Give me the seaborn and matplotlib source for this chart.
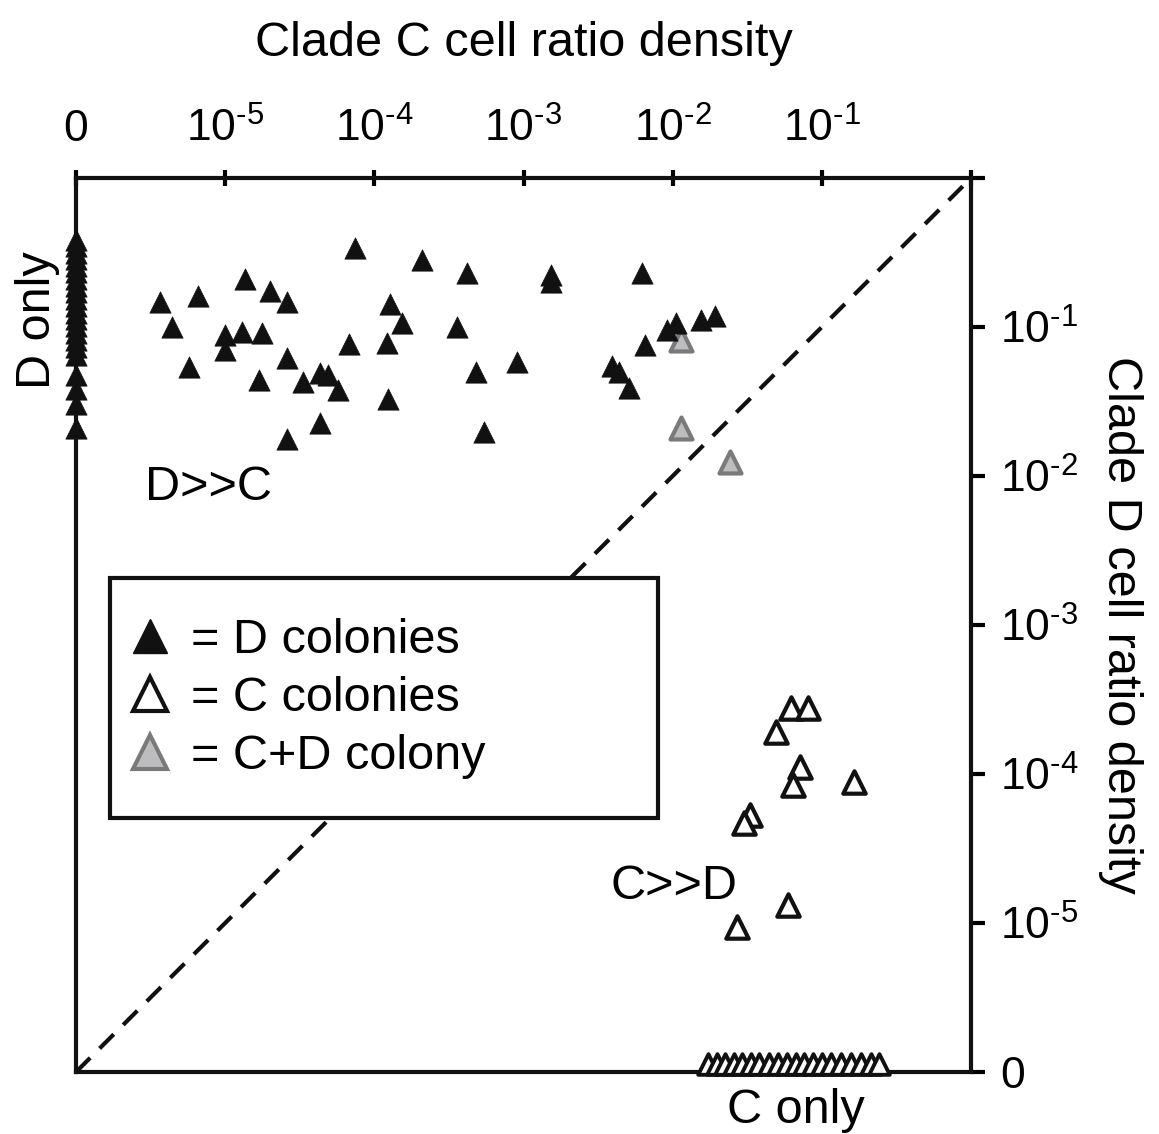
import numpy as np
import pandas as pd
import seaborn as sns
import matplotlib
matplotlib.use("Agg")
import matplotlib.pyplot as plt
from matplotlib.lines import Line2D
from matplotlib.patches import Rectangle
from matplotlib.ticker import NullLocator
from matplotlib.transforms import ScaledTranslation

# ---------------- data (cell ratio densities; 0 = clade absent) ----------------
# D colonies with no detectable clade C ("D only")
d_only_c = [0.0] * 22
d_only_d = [0.384, 0.350, 0.314, 0.286, 0.256, 0.234, 0.210, 0.188, 0.172, 0.154,
            0.138, 0.124, 0.113, 0.102, 0.091, 0.082, 0.0735, 0.0649,
            0.0477, 0.0384, 0.0304, 0.0210]

# D colonies with both clades detected
d_col_c = [3.66e-6, 4.4e-6, 6.6e-6, 5.7e-6, 1.36e-5, 2.0e-5, 2.6e-5, 1.0e-5, 1.0e-5,
           1.3e-5, 1.77e-5, 2.6e-5, 1.69e-5, 3.3e-5, 4.35e-5, 4.9e-5, 5.7e-5, 4.35e-5,
           2.6e-5, 7.4e-5, 6.8e-5, 2.1e-4, 4.2e-4, 1.54e-3, 1.54e-3, 6.2e-3, 1.28e-4,
           1.54e-4, 3.6e-4, 1.22e-4, 1.24e-4, 4.8e-4, 9.1e-4, 5.4e-4, 9.2e-3, 1.05e-2,
           1.54e-2, 1.91e-2, 6.5e-3, 3.9e-3, 4.4e-3, 5.1e-3]
d_col_d = [0.147, 0.100, 0.161, 0.054, 0.210, 0.175, 0.147, 0.088, 0.070,
           0.092, 0.091, 0.062, 0.044, 0.043, 0.049, 0.048, 0.038, 0.0227,
           0.0177, 0.339, 0.077, 0.282, 0.230, 0.223, 0.200, 0.230, 0.143,
           0.106, 0.100, 0.078, 0.0329, 0.050, 0.058, 0.0197, 0.0955, 0.106,
           0.111, 0.119, 0.0757, 0.0547, 0.050, 0.039]

# C colonies with both clades detected
c_col_c = [0.062, 0.0805, 0.049, 0.071, 0.0638, 0.164, 0.0329, 0.030, 0.059, 0.0269]
c_col_d = [2.77e-4, 2.77e-4, 1.91e-4, 1.11e-4, 8.4e-5, 8.8e-5, 5.3e-5, 4.7e-5, 1.32e-5, 9.4e-6]

# C colonies with no detectable clade D ("C only")
c_only_c = [0.0172, 0.0197, 0.0223, 0.0256, 0.0290, 0.0333, 0.0378, 0.0441, 0.0507, 0.0582,
            0.0670, 0.0757, 0.0871, 0.100, 0.115, 0.134, 0.157, 0.183, 0.213, 0.242]
c_only_d = [0.0] * 20

# C+D colony
cd_c = [1.13e-2, 1.13e-2, 2.42e-2]
cd_d = [0.082, 0.021, 0.0124]

x_ticks = [1e-6, 1e-5, 1e-4, 1e-3, 1e-2, 1e-1, 1.0]
x_tick_labels = ["0", "10$^{\\text{-5}}$", "10$^{\\text{-4}}$", "10$^{\\text{-3}}$",
                 "10$^{\\text{-2}}$", "10$^{\\text{-1}}$", ""]
y_ticks = [1e-6, 1e-5, 1e-4, 1e-3, 1e-2, 1e-1, 1.0]
y_tick_labels = ["0", "10$^{\\text{-5}}$", "10$^{\\text{-4}}$", "10$^{\\text{-3}}$",
                 "10$^{\\text{-2}}$", "10$^{\\text{-1}}$", ""]

ZERO_POS = 1e-6  # where "0" sits on the log axes


def place(v):
    v = np.asarray(v, dtype=float)
    return np.where(v == 0, ZERO_POS, v)


d_df = pd.DataFrame({"C": place(d_only_c + d_col_c), "D": place(d_only_d + d_col_d)})
c_df = pd.DataFrame({"C": place(c_col_c), "D": place(c_col_d)})
c0_df = pd.DataFrame({"C": place(c_only_c), "D": place(c_only_d)})
cd_df = pd.DataFrame({"C": place(cd_c), "D": place(cd_d)})

# ---------------- style ----------------
sns.set_style("white")
plt.rcParams["font.family"] = ["Liberation Sans", "DejaVu Sans"]
plt.rcParams["mathtext.fontset"] = "custom"
plt.rcParams["mathtext.rm"] = "Liberation Sans"
plt.rcParams["mathtext.it"] = "Liberation Sans:italic"
plt.rcParams["mathtext.bf"] = "Liberation Sans:bold"
plt.rcParams["text.color"] = "black"
plt.rcParams["axes.labelcolor"] = "black"
plt.rcParams["xtick.color"] = "black"
plt.rcParams["ytick.color"] = "black"

fig, ax = plt.subplots(figsize=(11.59, 11.34), dpi=100)
fig.subplots_adjust(left=0.0656, right=0.8378, top=0.843, bottom=0.0547)
ax.set_xscale("log")
ax.set_yscale("log")
ax.set_xlim(1e-6, 1.0)
ax.set_ylim(1e-6, 1.0)

# diagonal
ax.axline((1e-6, 1e-6), (1.0, 1.0), color="#111111", lw=3.0, ls=(0, (4.8, 3.2)), zorder=1)

# points
sns.scatterplot(data=cd_df, x="C", y="D", marker="^", s=250, color="#bdbdc0",
                edgecolor="#7a7a7a", linewidth=3.0, ax=ax, zorder=3, legend=False)
sns.scatterplot(data=d_df, x="C", y="D", marker="^", s=235, color="#111111",
                edgecolor="#111111", linewidth=0.5, ax=ax, zorder=4, legend=False)
sns.scatterplot(data=c_df, x="C", y="D", marker="^", s=260, color="white",
                edgecolor="#111111", linewidth=3.0, ax=ax, zorder=4, legend=False)
sns.scatterplot(data=c0_df, x="C", y="D", marker="^", s=220, color="white",
                edgecolor="#111111", linewidth=2.8, ax=ax, zorder=4, legend=False)
ax.collections[-1].set_offset_transform(
    ax.transData + ScaledTranslation(0, 6 / 72, fig.dpi_scale_trans))
for coll in ax.collections:
    coll.set_clip_on(False)

# axes / ticks
for sp in ax.spines.values():
    sp.set_visible(True)
    sp.set_color("#111111")
    sp.set_linewidth(3.0)
ax.xaxis.tick_top()
ax.yaxis.tick_right()
ax.xaxis.set_minor_locator(NullLocator())
ax.yaxis.set_minor_locator(NullLocator())
ax.set_xticks(x_ticks)
ax.set_xticklabels(x_tick_labels)
ax.set_yticks(y_ticks)
ax.set_yticklabels(y_tick_labels)
ax.tick_params(axis="x", which="major", direction="inout", length=12, width=3.0,
               pad=14, labelsize=32, top=True, bottom=False, labeltop=True,
               labelbottom=False, colors="black")
ax.tick_params(axis="y", which="major", direction="out", length=10, width=3.0,
               pad=11, labelsize=32, right=True, left=False, labelright=True,
               labelleft=False, colors="black")
ax.grid(False)

ax.xaxis.set_label_position("top")
ax.set_xlabel("Clade C cell ratio density", fontsize=35, labelpad=37)
ax.yaxis.set_label_position("right")
ax.set_ylabel("Clade D cell ratio density", fontsize=35, rotation=270,
              labelpad=14, va="bottom")

# annotations
ax.text(-0.043, 0.841, "D only", transform=ax.transAxes, rotation=90,
        fontsize=35, ha="center", va="center")
ax.text(0.077, 0.654, "D>>C", transform=ax.transAxes, fontsize=35,
        ha="left", va="center")
ax.text(0.597, 0.207, "C>>D", transform=ax.transAxes, fontsize=35,
        ha="left", va="center")
ax.text(0.804, -0.043, "C only", transform=ax.transAxes, fontsize=35,
        ha="center", va="center", clip_on=False)

# legend box
ax.add_patch(Rectangle((0.038, 0.284), 0.612, 0.2686, transform=ax.transAxes,
                       facecolor="white", edgecolor="#111111", lw=3.0, zorder=5))
handles = [
    Line2D([], [], ls="none", marker="^", markersize=24, markerfacecolor="#111111",
           markeredgecolor="#111111"),
    Line2D([], [], ls="none", marker="^", markersize=24, markerfacecolor="white",
           markeredgecolor="#111111", markeredgewidth=3.0),
    Line2D([], [], ls="none", marker="^", markersize=24, markerfacecolor="#bdbdc0",
           markeredgecolor="#7a7a7a", markeredgewidth=3.0),
]
labels = ["= D colonies", "= C colonies", "= C+D colony"]
leg = ax.legend(handles, labels, loc="upper left", bbox_to_anchor=(0.017, 0.546),
                bbox_transform=ax.transAxes, frameon=False, fontsize=35,
                handlelength=1.0, handletextpad=0.35, labelspacing=0.27,
                borderpad=0.2)
leg.set_zorder(6)

fig.savefig("out.png", dpi=100)
